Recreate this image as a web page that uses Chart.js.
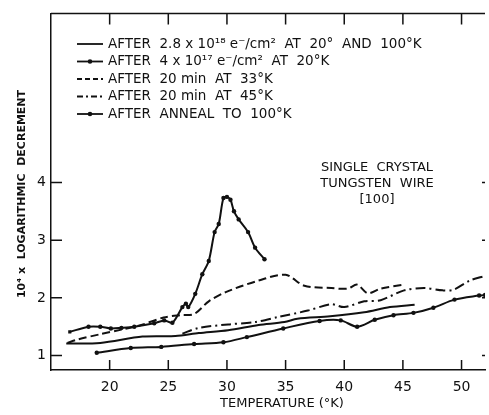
<!DOCTYPE html>
<html>
<head>
<meta charset="utf-8">
<title>Logarithmic decrement vs temperature</title>
<script src="https://cdn.jsdelivr.net/npm/chart.js@4.4.0/dist/chart.umd.min.js"></script>
<style>
  html, body { margin: 0; padding: 0; background: #fff; }
  #wrap { width: 489px; height: 415px; }
</style>
</head>
<body>
<div id="wrap"><canvas id="chart"></canvas></div>
<script>
// after 2.8 x 10^18 e/cm2 at 20 and 100 K  (solid)
var tempA = [16.3, 19.2, 22.8, 25.6, 27.6, 30.1, 32.7, 34.9, 36.0, 38.8, 41.7, 43.9, 46.0];
var decA  = [1.21, 1.22, 1.33, 1.34, 1.39, 1.44, 1.53, 1.58, 1.64, 1.68, 1.75, 1.84, 1.88];

// after 4 x 10^17 e/cm2 at 20 K  (solid with dots, the peak)
var tempB = [16.6, 18.2, 19.2, 20.1, 21.0, 22.1, 23.8, 24.65, 25.35, 26.2, 26.5, 26.7, 27.3, 27.9, 28.45, 28.95, 29.3, 29.7, 30.0, 30.3, 30.6, 31.0, 31.8, 32.4, 33.2];
var decB  = [1.41, 1.50, 1.50, 1.47, 1.48, 1.50, 1.56, 1.61, 1.57, 1.84, 1.90, 1.84, 2.07, 2.41, 2.64, 3.14, 3.28, 3.73, 3.75, 3.70, 3.50, 3.36, 3.14, 2.87, 2.67];

// after 20 min at 33 K  (dashed)
var tempC = [16.4, 17.3, 19.2, 21.0, 22.7, 24.6, 26.0, 27.2, 28.45, 29.9, 32.7, 35.0, 36.6, 38.9, 40.3, 41.1, 42.0, 43.1, 45.1];
var decC  = [1.22, 1.28, 1.37, 1.45, 1.53, 1.66, 1.70, 1.72, 1.94, 2.10, 2.30, 2.40, 2.21, 2.17, 2.16, 2.23, 2.08, 2.16, 2.23];

// after 20 min at 45 K  (dash-dot)
var tempD = [26.2, 27.6, 30.1, 32.4, 34.4, 36.9, 38.9, 40.0, 41.7, 43.1, 45.1, 46.8, 48.4, 49.3, 50.7, 52.0];
var decD  = [1.38, 1.48, 1.54, 1.58, 1.67, 1.78, 1.89, 1.84, 1.94, 1.96, 2.13, 2.17, 2.13, 2.14, 2.30, 2.38];

// after anneal to 100 K  (solid with dots, lowest)
var tempE = [18.9, 21.8, 24.4, 27.2, 29.7, 31.7, 34.8, 37.9, 39.7, 41.1, 42.6, 44.2, 45.9, 47.6, 49.4, 51.5, 52.0];
var decE  = [1.05, 1.13, 1.15, 1.20, 1.23, 1.32, 1.47, 1.60, 1.61, 1.50, 1.62, 1.70, 1.74, 1.83, 1.97, 2.04, 2.05];

var xTicks = [20, 25, 30, 35, 40, 45, 50];
var yTicks = [1, 2, 3, 4];

var legendLabels = [
  'AFTER  2.8 x 10\u00B9\u2078 e\u207B/cm\u00B2  AT  20\u00B0  AND  100\u00B0K',
  'AFTER  4 x 10\u00B9\u2077 e\u207B/cm\u00B2  AT  20\u00B0K',
  'AFTER  20 min  AT  33\u00B0K',
  'AFTER  20 min  AT  45\u00B0K',
  'AFTER  ANNEAL  TO  100\u00B0K'
];
var noteLines = ['SINGLE  CRYSTAL', 'TUNGSTEN  WIRE', '[100]'];
var xTitle = 'TEMPERATURE (\u00B0K)';
var yTitle = '10\u2074 x  LOGARITHMIC  DECREMENT';

var INK = '#111';
var FONT = '"DejaVu Sans", sans-serif';

function pts(xs, ys) {
  return xs.map(function (x, i) { return { x: x, y: ys[i] }; });
}

var styles = [
  { dash: [], legendDash: [], dots: false },
  { dash: [], legendDash: [], dots: true },
  { dash: [8, 4], legendDash: [5, 3], dots: false },
  { dash: [10, 4, 2, 4], legendDash: [6, 3, 2, 3], dots: false },
  { dash: [], legendDash: [], dots: true }
];

var series = [
  pts(tempA, decA), pts(tempB, decB), pts(tempC, decC), pts(tempD, decD), pts(tempE, decE)
];

var datasets = series.map(function (d, i) {
  return {
    label: legendLabels[i],
    data: d,
    borderColor: INK,
    backgroundColor: INK,
    borderWidth: 2,
    borderDash: styles[i].dash,
    tension: 0.3,
    pointRadius: styles[i].dots ? 2.2 : 0,
    pointStyle: i === 1 ? function (c) { return c.dataIndex === 0 ? 'rect' : 'circle'; } : 'circle',
    pointBorderWidth: 0
  };
});

// frame, inward ticks, legend, titles and note
var decorations = {
  id: 'decorations',
  afterDraw: function (chart) {
    var c = chart.ctx, a = chart.chartArea;
    var xs = chart.scales.x, ys = chart.scales.y;
    c.save();
    c.strokeStyle = INK;
    c.lineWidth = 1.5;
    c.beginPath();
    c.moveTo(a.left, a.top); c.lineTo(a.right, a.top);
    xTicks.forEach(function (t) {
      var px = xs.getPixelForValue(t);
      c.moveTo(px, a.bottom); c.lineTo(px, a.bottom - 10);
      c.moveTo(px, a.top); c.lineTo(px, a.top + 11);
    });
    yTicks.forEach(function (t) {
      var py = ys.getPixelForValue(t);
      c.moveTo(a.left, py); c.lineTo(a.left + 11, py);
      c.moveTo(a.right, py); c.lineTo(a.right - 3, py);
    });
    c.stroke();

    // legend
    c.fillStyle = INK;
    c.font = '13.5px ' + FONT;
    c.textBaseline = 'middle';
    c.textAlign = 'left';
    legendLabels.forEach(function (lab, i) {
      var y = 44 + i * 17.5;
      c.lineWidth = 1.8;
      c.setLineDash(styles[i].legendDash);
      c.beginPath(); c.moveTo(77, y); c.lineTo(103, y); c.stroke();
      c.setLineDash([]);
      if (styles[i].dots) { c.beginPath(); c.arc(90, y, 2.3, 0, Math.PI * 2); c.fill(); }
      c.fillText(lab, 108, y);
    });

    // note
    c.font = '13px ' + FONT;
    c.textAlign = 'center';
    noteLines.forEach(function (t, i) { c.fillText(t, 377, 168 + i * 16); });

    // x title
    c.fillText(xTitle, 282, 404);

    // y title
    c.save();
    c.translate(22, 194);
    c.rotate(-Math.PI / 2);
    c.font = 'bold 11px ' + FONT;
    c.fillText(yTitle, 0, 0);
    c.restore();
    c.restore();
  }
};

new Chart(document.getElementById('chart'), {
  type: 'line',
  data: { datasets: datasets },
  plugins: [decorations],
  options: {
    responsive: true,
    maintainAspectRatio: false,
    animation: false,
    devicePixelRatio: 1,
    layout: { padding: { top: 10, right: 0, left: 0, bottom: 0 } },
    plugins: { legend: { display: false }, tooltip: { enabled: false } },
    scales: {
      x: {
        type: 'linear',
        min: 15,
        max: 52,
        afterBuildTicks: function (s) { s.ticks = xTicks.map(function (v) { return { value: v }; }); },
        afterFit: function (s) { s.height = 45; },
        grid: { display: false, drawTicks: false },
        border: { display: true, color: INK, width: 1.5 },
        ticks: { color: INK, font: { family: FONT, size: 14 }, padding: 9, maxRotation: 0 }
      },
      y: {
        type: 'linear',
        min: 0.75,
        max: 6.93,
        afterBuildTicks: function (s) { s.ticks = yTicks.map(function (v) { return { value: v }; }); },
        afterFit: function (s) { s.width = 51; },
        grid: { display: false, drawTicks: false },
        border: { display: true, color: INK, width: 1.5 },
        ticks: { color: INK, font: { family: FONT, size: 14 }, padding: 5 }
      }
    }
  }
});
</script>
</body>
</html>
